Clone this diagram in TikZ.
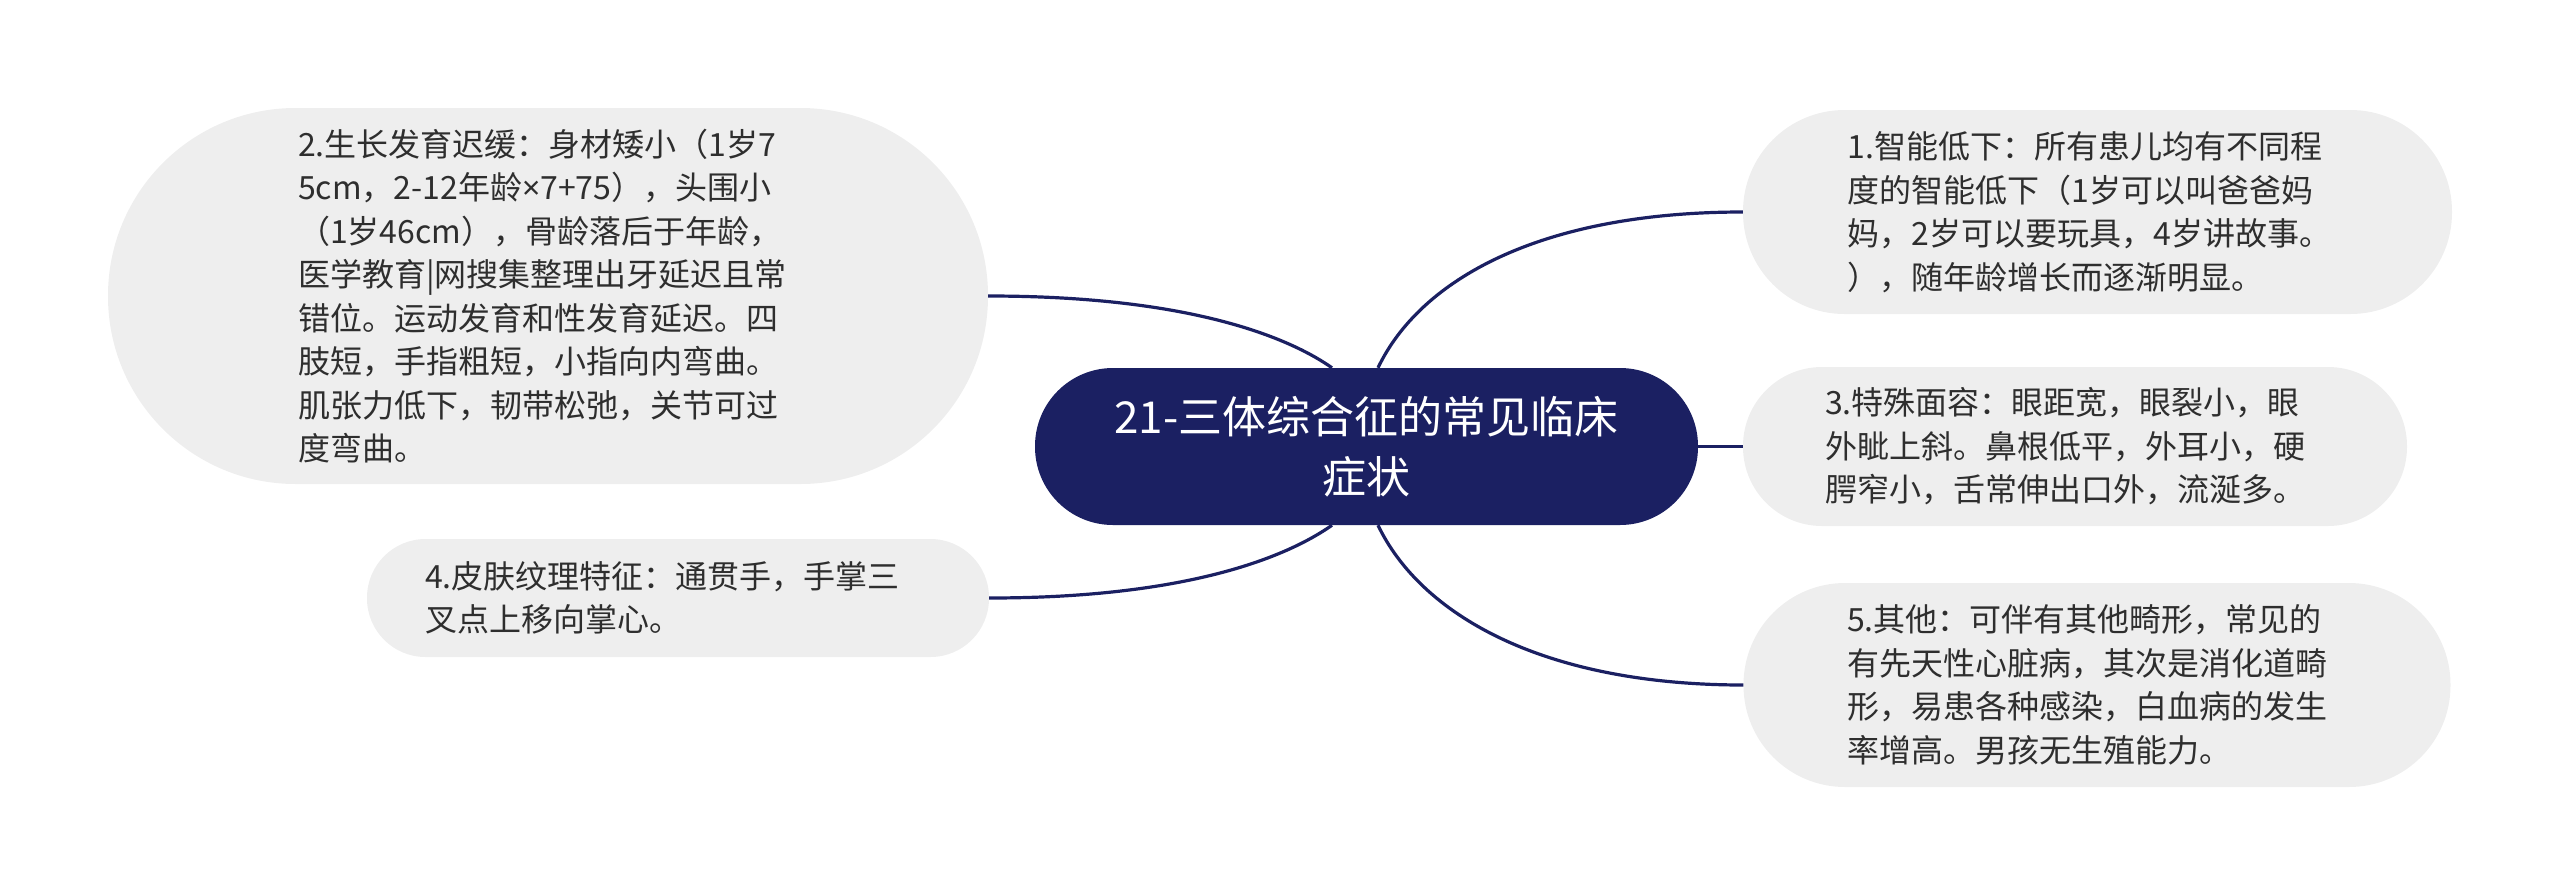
\documentclass[tikz,border=0pt]{standalone}
\usepackage{fontspec}
\newfontfamily\cjk{Noto Sans CJK SC}
\newfontfamily\latn{Noto Sans}
\definecolor{navy}{HTML}{1B2062}
\definecolor{boxgray}{HTML}{EEEEEE}
\definecolor{txt}{HTML}{2E2E2E}
\tikzset{
  leaf/.style={fill=boxgray, draw=none, inner sep=0pt, text=txt,
    align=left, text width=500pt,
    font={\cjk\fontsize{32pt}{43.5pt}\selectfont}},
  rootbox/.style={fill=navy, draw=none, inner sep=0pt, text=white,
    align=center, minimum width=663pt, minimum height=157pt,
    rounded corners=78pt, font={\cjk\fontsize{44pt}{60pt}\selectfont}},
  link/.style={draw=navy, line width=3.2pt}
}
\begin{document}
\begin{tikzpicture}[x=1pt,y=-1pt]
\useasboundingbox (0,0) rectangle (2560,895);

\node[rootbox] (root) at (1366.5,446.5) {21-三体综合征的常见临床\\症状};

\node[leaf, minimum width=709pt, minimum height=204pt, rounded corners=101.5pt] (n1) at (2097.5,212)
  {1.智能低下：所有患儿均有不同程\\度的智能低下（1岁可以叫爸爸妈\\妈，2岁可以要玩具，4岁讲故事。\\），随年龄增长而逐渐明显。};

\node[leaf, minimum width=880pt, minimum height=376pt, rounded corners=187.5pt] (n2) at (548,296)
  {2.生长发育迟缓：身材矮小（1岁7\\5cm，2-12年龄{\latn ×}7+75），头围小\\（1岁46cm），骨龄落后于年龄，\\医学教育|网搜集整理出牙延迟且常\\错位。运动发育和性发育延迟。四\\肢短，手指粗短，小指向内弯曲。\\肌张力低下，韧带松弛，关节可过\\度弯曲。};

\node[leaf, minimum width=664pt, minimum height=159pt, rounded corners=79pt] (n3) at (2075,446.5)
  {3.特殊面容：眼距宽，眼裂小，眼\\外眦上斜。鼻根低平，外耳小，硬\\腭窄小，舌常伸出口外，流涎多。};

\node[leaf, minimum width=622pt, minimum height=118pt, rounded corners=58.5pt, text width=506pt] (n4) at (678,598)
  {4.皮肤纹理特征：通贯手，手掌三\\叉点上移向掌心。};

\node[leaf, minimum width=707pt, minimum height=204pt, rounded corners=101.5pt] (n5) at (2097,685)
  {5.其他：可伴有其他畸形，常见的\\有先天性心脏病，其次是消化道畸\\形，易患各种感染，白血病的发生\\率增高。男孩无生殖能力。};

\draw[link] ([xshift=11.5pt]root.north) .. controls +(42,-88) and +(-203,0) .. (n1.west);
\draw[link] ([xshift=11.5pt]root.south) .. controls +(42,88) and +(-203,0) .. (n5.west);
\draw[link] (root.east) -- (n3.west);
\draw[link] ([xshift=-34.5pt]root.north) .. controls +(-37,-26) and +(212,0) .. (n2.east);
\draw[link] ([xshift=-34.5pt]root.south) .. controls +(-37,26) and +(212,0) .. (n4.east);
\end{tikzpicture}
\end{document}
